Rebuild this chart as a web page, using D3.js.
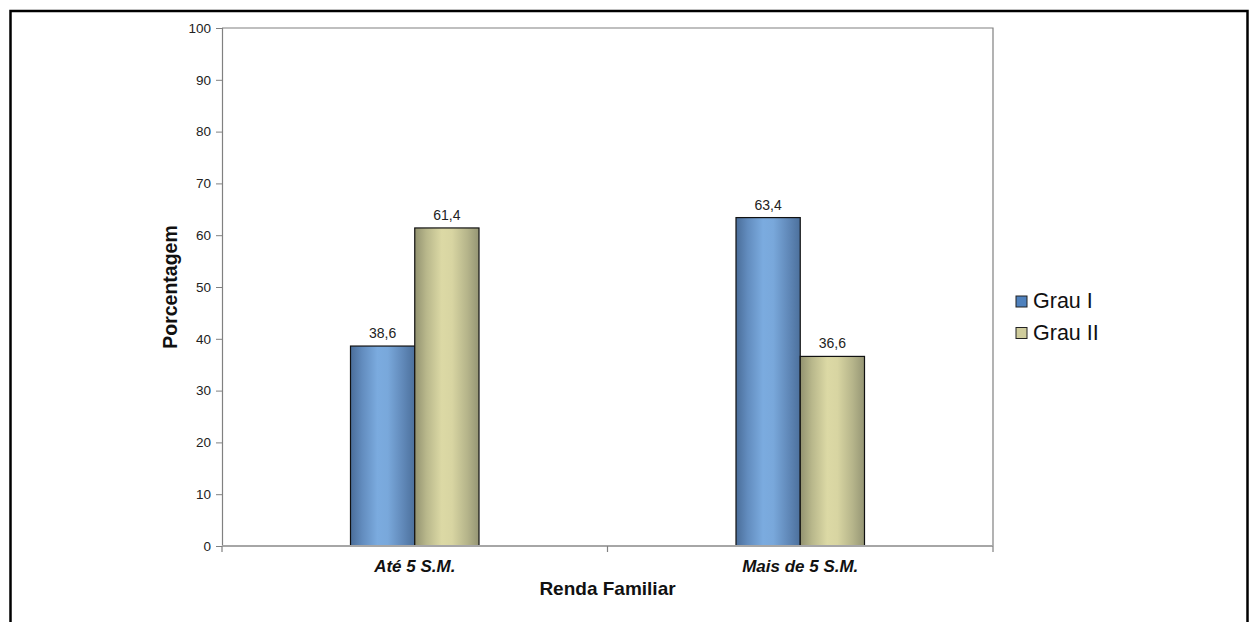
<!DOCTYPE html>
<html>
<head>
<meta charset="utf-8">
<script src="https://cdn.jsdelivr.net/npm/d3@7"></script>
<style>
  html, body { margin: 0; padding: 0; background: #fff; }
  svg { display: block; font-family: Arial, "Liberation Sans", sans-serif; }
</style>
</head>
<body>
<svg id="chart" width="1249" height="622"></svg>
<script>
// Income bands and degree distribution (%)
const categories = ["Até 5 S.M.", "Mais de 5 S.M."];
const seriesNames = ["Grau I", "Grau II"];
const grauI = [38.6, 63.4];
const grauII = [61.4, 36.6];
const yTicks = [0, 10, 20, 30, 40, 50, 60, 70, 80, 90, 100];
const valueLabels = [["38,6", "63,4"], ["61,4", "36,6"]];

const series = [grauI, grauII];

const svg = d3.select("#chart");
const plot = { left: 222, right: 993, top: 28, bottom: 546 };

// Gradient fills for the bars
const defs = svg.append("defs");
const gradients = [
  { id: "gBlue", stops: [[0, "#4a6d99"], [0.18, "#628cbe"], [0.42, "#7babdf"], [0.58, "#79a8db"], [0.82, "#6088b8"], [1, "#4c709c"]] },
  { id: "gKhaki", stops: [[0, "#929270"], [0.18, "#b8b78b"], [0.42, "#dcd9a5"], [0.58, "#d8d5a2"], [0.82, "#b5b48a"], [1, "#959574"]] }
];
gradients.forEach(g => {
  const lg = defs.append("linearGradient").attr("id", g.id)
    .attr("x1", "0").attr("y1", "0").attr("x2", "1").attr("y2", "0");
  g.stops.forEach(s => lg.append("stop").attr("offset", s[0]).attr("stop-color", s[1]));
});
const legendFill = ["#4f81bd", "#cfcc9c"];

// Outer frame
svg.append("rect")
  .attr("x", 10.5).attr("y", 11).attr("width", 1237).attr("height", 700)
  .attr("fill", "none").attr("stroke", "#000").attr("stroke-width", 2.5);

const x = d3.scaleBand().domain(categories).range([plot.left, plot.right]).padding(0);
const y = d3.scaleLinear().domain([0, 100]).range([plot.bottom, plot.top]);
const barW = x.bandwidth() / 6;
const xs = d3.scaleBand().domain(seriesNames).range([-barW, barW]).padding(0);

// Plot area border (top and right)
svg.append("path")
  .attr("d", `M${plot.left},${plot.top}H${plot.right}V${plot.bottom}`)
  .attr("fill", "none").attr("stroke", "#808080").attr("stroke-width", 1.2);

// Y axis
const yAxis = svg.append("g").attr("transform", `translate(${plot.left},0)`)
  .call(d3.axisLeft(y).tickValues(yTicks).tickSize(6).tickPadding(5).tickFormat(d3.format("d")));
yAxis.attr("font-size", null).attr("font-family", null);
yAxis.select(".domain").attr("stroke", "#808080").attr("stroke-width", 1.2);
yAxis.selectAll(".tick line").attr("stroke", "#808080");
yAxis.selectAll(".tick text").attr("font-size", 13.5).attr("fill", "#222");

// Bars
series.forEach((vals, si) => {
  svg.append("g").selectAll("rect")
    .data(vals)
    .join("rect")
    .attr("x", (d, i) => x(categories[i]) + x.bandwidth() / 2 + xs(seriesNames[si]))
    .attr("y", d => y(d))
    .attr("width", xs.bandwidth())
    .attr("height", d => y(0) - y(d))
    .attr("fill", `url(#${gradients[si].id})`)
    .attr("stroke", "#111").attr("stroke-width", 1.2);

  svg.append("g").selectAll("text")
    .data(vals)
    .join("text")
    .attr("x", (d, i) => x(categories[i]) + x.bandwidth() / 2 + xs(seriesNames[si]) + xs.bandwidth() / 2)
    .attr("y", d => y(d) - 8)
    .attr("text-anchor", "middle")
    .attr("font-size", 14).attr("fill", "#222")
    .text((d, i) => valueLabels[si][i]);
});

// X axis
const xAxis = svg.append("g").attr("transform", `translate(0,${plot.bottom})`);
xAxis.append("line")
  .attr("x1", plot.left).attr("x2", plot.right)
  .attr("stroke", "#a6a6a6").attr("stroke-width", 2);
const boundaries = [plot.left, ...categories.slice(1).map(c => x(c)), plot.right];
xAxis.selectAll("line.tk").data(boundaries).join("line").attr("class", "tk")
  .attr("x1", d => d).attr("x2", d => d).attr("y1", 0).attr("y2", 6)
  .attr("stroke", "#808080").attr("stroke-width", 1.2);
xAxis.selectAll("text").data(categories).join("text")
  .attr("x", d => x(d) + x.bandwidth() / 2)
  .attr("y", 26)
  .attr("text-anchor", "middle")
  .attr("font-size", 17).attr("font-weight", "bold").attr("font-style", "italic")
  .attr("fill", "#111")
  .text(d => d);

// Axis titles
svg.append("text")
  .attr("x", (plot.left + plot.right) / 2).attr("y", 595)
  .attr("text-anchor", "middle")
  .attr("font-size", 19).attr("font-weight", "bold").attr("fill", "#111")
  .text("Renda Familiar");

svg.append("text")
  .attr("transform", `translate(177,${(plot.top + plot.bottom) / 2}) rotate(-90)`)
  .attr("text-anchor", "middle")
  .attr("font-size", 19.5).attr("font-weight", "bold").attr("fill", "#111")
  .text("Porcentagem");

// Legend
const legend = svg.append("g").attr("transform", "translate(1016,296)");
seriesNames.forEach((name, i) => {
  const g = legend.append("g").attr("transform", `translate(0,${i * 31.5})`);
  g.append("rect").attr("x", 0).attr("y", 0).attr("width", 11).attr("height", 11)
    .attr("fill", legendFill[i]).attr("stroke", "#222").attr("stroke-width", 1);
  g.append("text").attr("x", 17).attr("y", 12)
    .attr("font-size", 21.5).attr("fill", "#111")
    .text(name);
});
</script>
</body>
</html>
